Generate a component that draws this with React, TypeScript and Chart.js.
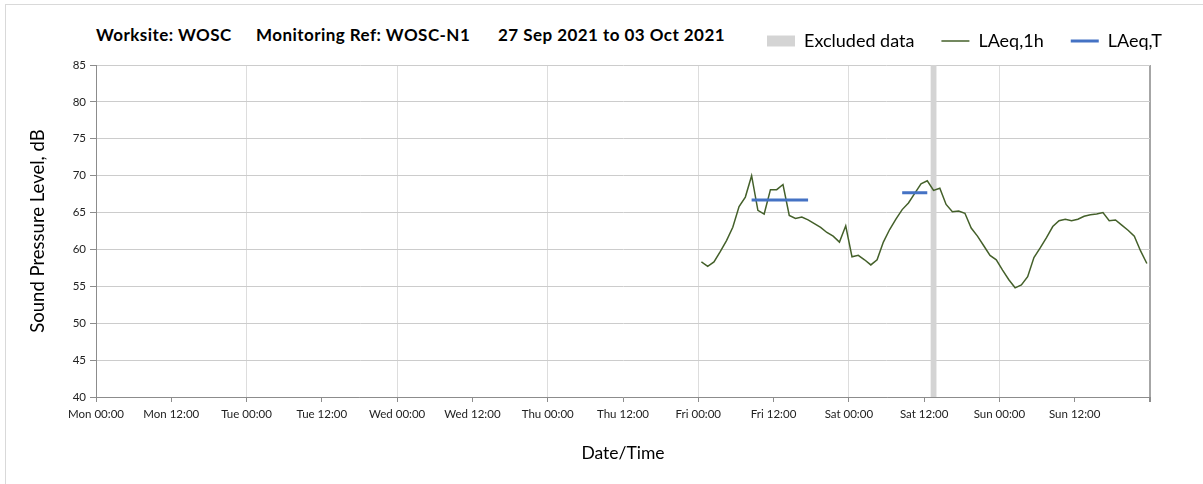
import React, { useEffect, useRef } from 'react';
import { Chart, registerables } from 'chart.js';

Chart.register(...registerables);

// ---- data ----
const xTickLabels = [
  'Mon 00:00', 'Mon 12:00', 'Tue 00:00', 'Tue 12:00', 'Wed 00:00', 'Wed 12:00',
  'Thu 00:00', 'Thu 12:00', 'Fri 00:00', 'Fri 12:00', 'Sat 00:00', 'Sat 12:00',
  'Sun 00:00', 'Sun 12:00',
];
const weekHours = 168; // Mon 00:00 .. next Mon 00:00
const tickStepHours = 12;
const yMin = 40;
const yMax = 85;
const yStep = 5;

// hourly LAeq,1h, first period midpoint Fri 00:30 (hours since Mon 00:00)
const laeq1hFirstHour = 96.5;
const laeq1h = [
  58.3, 57.7, 58.3, 59.7, 61.2, 63.0, 65.8, 67.1, 70.0, 65.3, 64.8, 68.1,
  68.1, 68.8, 64.6, 64.2, 64.4, 64.0, 63.5, 63.0, 62.3, 61.8, 61.0, 63.2,
  59.0, 59.2, 58.6, 57.9, 58.6, 61.0, 62.7, 64.1, 65.4, 66.3, 67.6, 68.9,
  69.3, 68.0, 68.3, 66.1, 65.1, 65.2, 64.9, 62.9, 61.8, 60.5, 59.2, 58.6,
  57.2, 55.9, 54.8, 55.2, 56.3, 58.9, 60.2, 61.6, 63.1, 63.9, 64.1, 63.9,
  64.1, 64.5, 64.7, 64.8, 65.0, 63.9, 64.0, 63.3, 62.6, 61.8, 59.8, 58.1,
];

// LAeq,T periods (hours since Mon 00:00)
const laeqTStart = [104.5, 128.5];
const laeqTEnd = [113.5, 132.5];
const laeqTValue = [66.7, 67.7];

// Excluded data periods (hours since Mon 00:00)
const excludedStart = [133];
const excludedEnd = [134];

const titleParts = ['Worksite: WOSC', 'Monitoring Ref: WOSC-N1', '27 Sep 2021 to 03 Oct 2021'];
const legendNames = ['Excluded data', 'LAeq,1h', 'LAeq,T'];

const FONT = 'Lato, "Open Sans", sans-serif';
const LEG_FONT = 18;
const LEG_PAD = 27;

export default function App() {
  const canvasRef = useRef<HTMLCanvasElement | null>(null);

  useEffect(() => {
    document.body.style.margin = '0';
    const canvas = canvasRef.current;
    if (!canvas) return;

    const green = laeq1h.map((v, i) => ({ x: laeq1hFirstHour + i, y: v }));
    const blue: { x: number; y: number | null }[] = [];
    laeqTStart.forEach((s, i) => {
      if (i > 0) blue.push({ x: (laeqTEnd[i - 1] + s) / 2, y: null });
      blue.push({ x: s, y: laeqTValue[i] });
      blue.push({ x: laeqTEnd[i], y: laeqTValue[i] });
    });
    const band: { x: number; y: number | null }[] = [];
    excludedStart.forEach((s, i) => {
      if (i > 0) band.push({ x: s - 0.01, y: null });
      band.push({ x: s, y: yMax });
      band.push({ x: excludedEnd[i], y: yMax });
    });

    const legendPlace = {
      id: 'legendPlace',
      afterLayout(chart: any) {
        const lg = chart.legend;
        if (lg) {
          const dy = 41 - (lg.top + LEG_PAD + LEG_FONT / 2);
          lg.top += dy;
          lg.bottom += dy;
          lg.left = 767 - LEG_PAD;
          lg.right = 1400;
        }
      },
    };

    const colors = ['#d4d4d4', '#44602a', '#4472c4'];

    const chart = new Chart(canvas, {
      type: 'line',
      data: {
        datasets: [
          {
            label: legendNames[0],
            data: band as any,
            borderWidth: 0,
            borderColor: 'rgba(0,0,0,0)',
            backgroundColor: colors[0],
            pointRadius: 0,
            fill: 'start',
            spanGaps: false,
            order: 3,
          },
          {
            label: legendNames[1],
            data: green,
            borderColor: colors[1],
            borderWidth: 1.5,
            pointRadius: 0,
            fill: false,
            tension: 0,
            order: 2,
          },
          {
            label: legendNames[2],
            data: blue as any,
            borderColor: colors[2],
            borderWidth: 3,
            pointRadius: 0,
            fill: false,
            spanGaps: false,
            order: 1,
          },
        ],
      },
      options: {
        responsive: false,
        animation: false,
        events: [],
        layout: { padding: { left: 0, right: 53, top: 65 - (LEG_FONT + LEG_PAD + 10), bottom: 0 } },
        plugins: {
          tooltip: { enabled: false },
          title: { display: false },
          legend: {
            display: true,
            position: 'top',
            align: 'start',
            labels: {
              usePointStyle: true,
              pointStyleWidth: 28,
              boxHeight: 11,
              padding: LEG_PAD,
              color: '#000',
              font: { family: FONT, size: LEG_FONT },
              generateLabels: () =>
                legendNames.map((name, i) => ({
                  text: name,
                  fillStyle: colors[i],
                  strokeStyle: colors[i],
                  lineWidth: i === 0 ? 0 : i === 1 ? 1.5 : 3,
                  pointStyle: i === 0 ? 'rect' : 'line',
                  datasetIndex: i,
                  hidden: false,
                  fontColor: '#000',
                })) as any,
            },
          },
        },
        scales: {
          x: {
            type: 'linear',
            min: 0,
            max: weekHours,
            afterFit: (s: any) => { s.height = 87; },
            ticks: {
              stepSize: tickStepHours,
              autoSkip: false,
              maxRotation: 0,
              padding: 5,
              color: '#222',
              font: { family: FONT, size: 11.5 },
              callback: (v: any) => xTickLabels[Math.round(Number(v) / tickStepHours)] ?? '',
            },
            grid: {
              color: (c: any) => {
                const v = c.tick ? c.tick.value : 0;
                if (v === weekHours) return '#a6a6a6';
                return v % 24 === 0 ? '#dddddd' : 'rgba(0,0,0,0)';
              },
              lineWidth: (c: any) => (c.tick && c.tick.value === weekHours ? 2 : 1),
              tickColor: '#8c8c8c',
              tickLength: 5,
            },
            border: { color: '#8c8c8c', width: 1 },
            title: {
              display: true,
              text: 'Date/Time',
              color: '#000',
              font: { family: FONT, size: 17.5 },
              padding: { top: 0, bottom: 20 },
            },
          },
          y: {
            type: 'linear',
            min: yMin,
            max: yMax,
            afterFit: (s: any) => { s.width = 96; },
            ticks: {
              stepSize: yStep,
              padding: 4,
              color: '#222',
              font: { family: FONT, size: 11.5 },
            },
            grid: {
              color: '#cccccc',
              tickColor: '#8c8c8c',
              tickLength: 6,
            },
            border: { color: '#8c8c8c', width: 1 },
            title: {
              display: true,
              text: 'Sound Pressure Level, dB',
              color: '#000',
              font: { family: FONT, size: 18.5 },
              padding: { top: 27, bottom: 0 },
            },
          },
        },
      },
      plugins: [legendPlace],
    });

    return () => chart.destroy();
  }, []);

  const titleLeft = [96, 256, 498];

  return (
    <div style={{ position: 'relative', width: 1203, height: 484, overflow: 'hidden', background: '#fff' }}>
      <div style={{ position: 'absolute', left: 5, top: 4, width: 1400, height: 700, border: '1px solid #d9d9d9', pointerEvents: 'none' }} />
      {titleParts.map((t, i) => (
        <div
          key={i}
          style={{
            position: 'absolute',
            left: titleLeft[i],
            top: 25,
            fontFamily: FONT,
            fontWeight: 700,
            fontSize: 17,
            letterSpacing: '0.45px',
            lineHeight: '20px',
            color: '#000',
            whiteSpace: 'pre',
          }}
        >
          {t}
        </div>
      ))}
      <canvas ref={canvasRef} width={1203} height={484} style={{ position: 'absolute', left: 0, top: 0, width: 1203, height: 484 }} />
    </div>
  );
}
